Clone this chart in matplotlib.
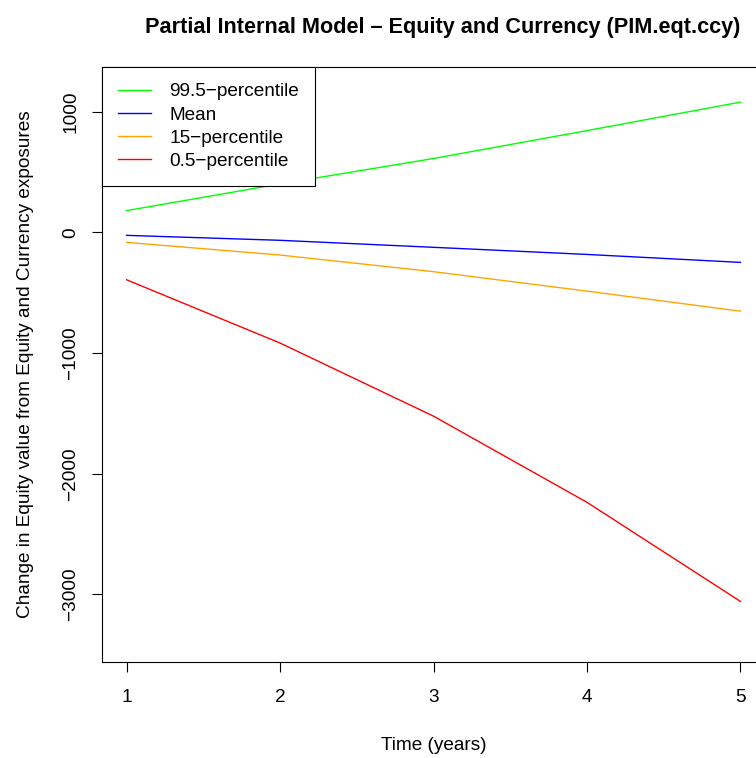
import matplotlib
matplotlib.use('Agg')
import matplotlib.pyplot as plt

plt.rcParams['font.family'] = ['Liberation Sans', 'DejaVu Sans']

years = [1, 2, 3, 4, 5]
p995 = [180, 401, 612, 843, 1079]
mean = [-25, -66, -124, -183, -249]
p15 = [-83, -188, -326, -487, -653]
p05 = [-393, -917, -1523, -2237, -3058]

labels = ["99.5\u2212percentile", "Mean", "15\u2212percentile", "0.5\u2212percentile"]
colors = ["#00ff00", "#0000ff", "#ffa500", "#ff0000"]

fs = 13.7
fig = plt.figure(figsize=(7.56, 7.58), dpi=100)
ax = fig.add_axes([102 / 756, 1 - 662 / 758, (765 - 102) / 756, (662 - 67) / 758])

for y, c, lab in zip([p995, mean, p15, p05], colors, labels):
    ax.plot(years, y, color=c, linewidth=1.0, label=lab)

ax.set_xlim(0.84, 5.16)
ax.set_ylim(-3560, 1370)
ax.set_xticks(years)
ax.set_yticks([-3000, -2000, -1000, 0, 1000])
ax.set_yticklabels(["\u22123000", "\u22122000", "\u22121000", "0", "1000"],
                   rotation=90, va='center')
ax.tick_params(direction='out', length=7.5, width=0.8, labelsize=fs)
ax.tick_params(axis='x', pad=12)
ax.tick_params(axis='y', pad=9)
for s in ax.spines.values():
    s.set_linewidth(0.8)

ax.set_xlabel("Time (years)", fontsize=fs, labelpad=22)
ax.set_ylabel("Change in Equity value from Equity and Currency exposures",
              fontsize=fs, labelpad=20)

fig.text(443 / 756, 1 - 27 / 758, "Partial Internal Model \u2013 Equity and Currency (PIM.eqt.ccy)",
         ha='center', va='center', fontsize=15.6, fontweight='bold')

leg = ax.legend(loc='upper left', borderaxespad=0, fancybox=False,
                edgecolor='black', framealpha=1, fontsize=fs,
                handlelength=1.74, handletextpad=0.95, labelspacing=0.31,
                borderpad=0.85)
leg.get_frame().set_linewidth(0.8)

fig.savefig("out.png", dpi=100)
